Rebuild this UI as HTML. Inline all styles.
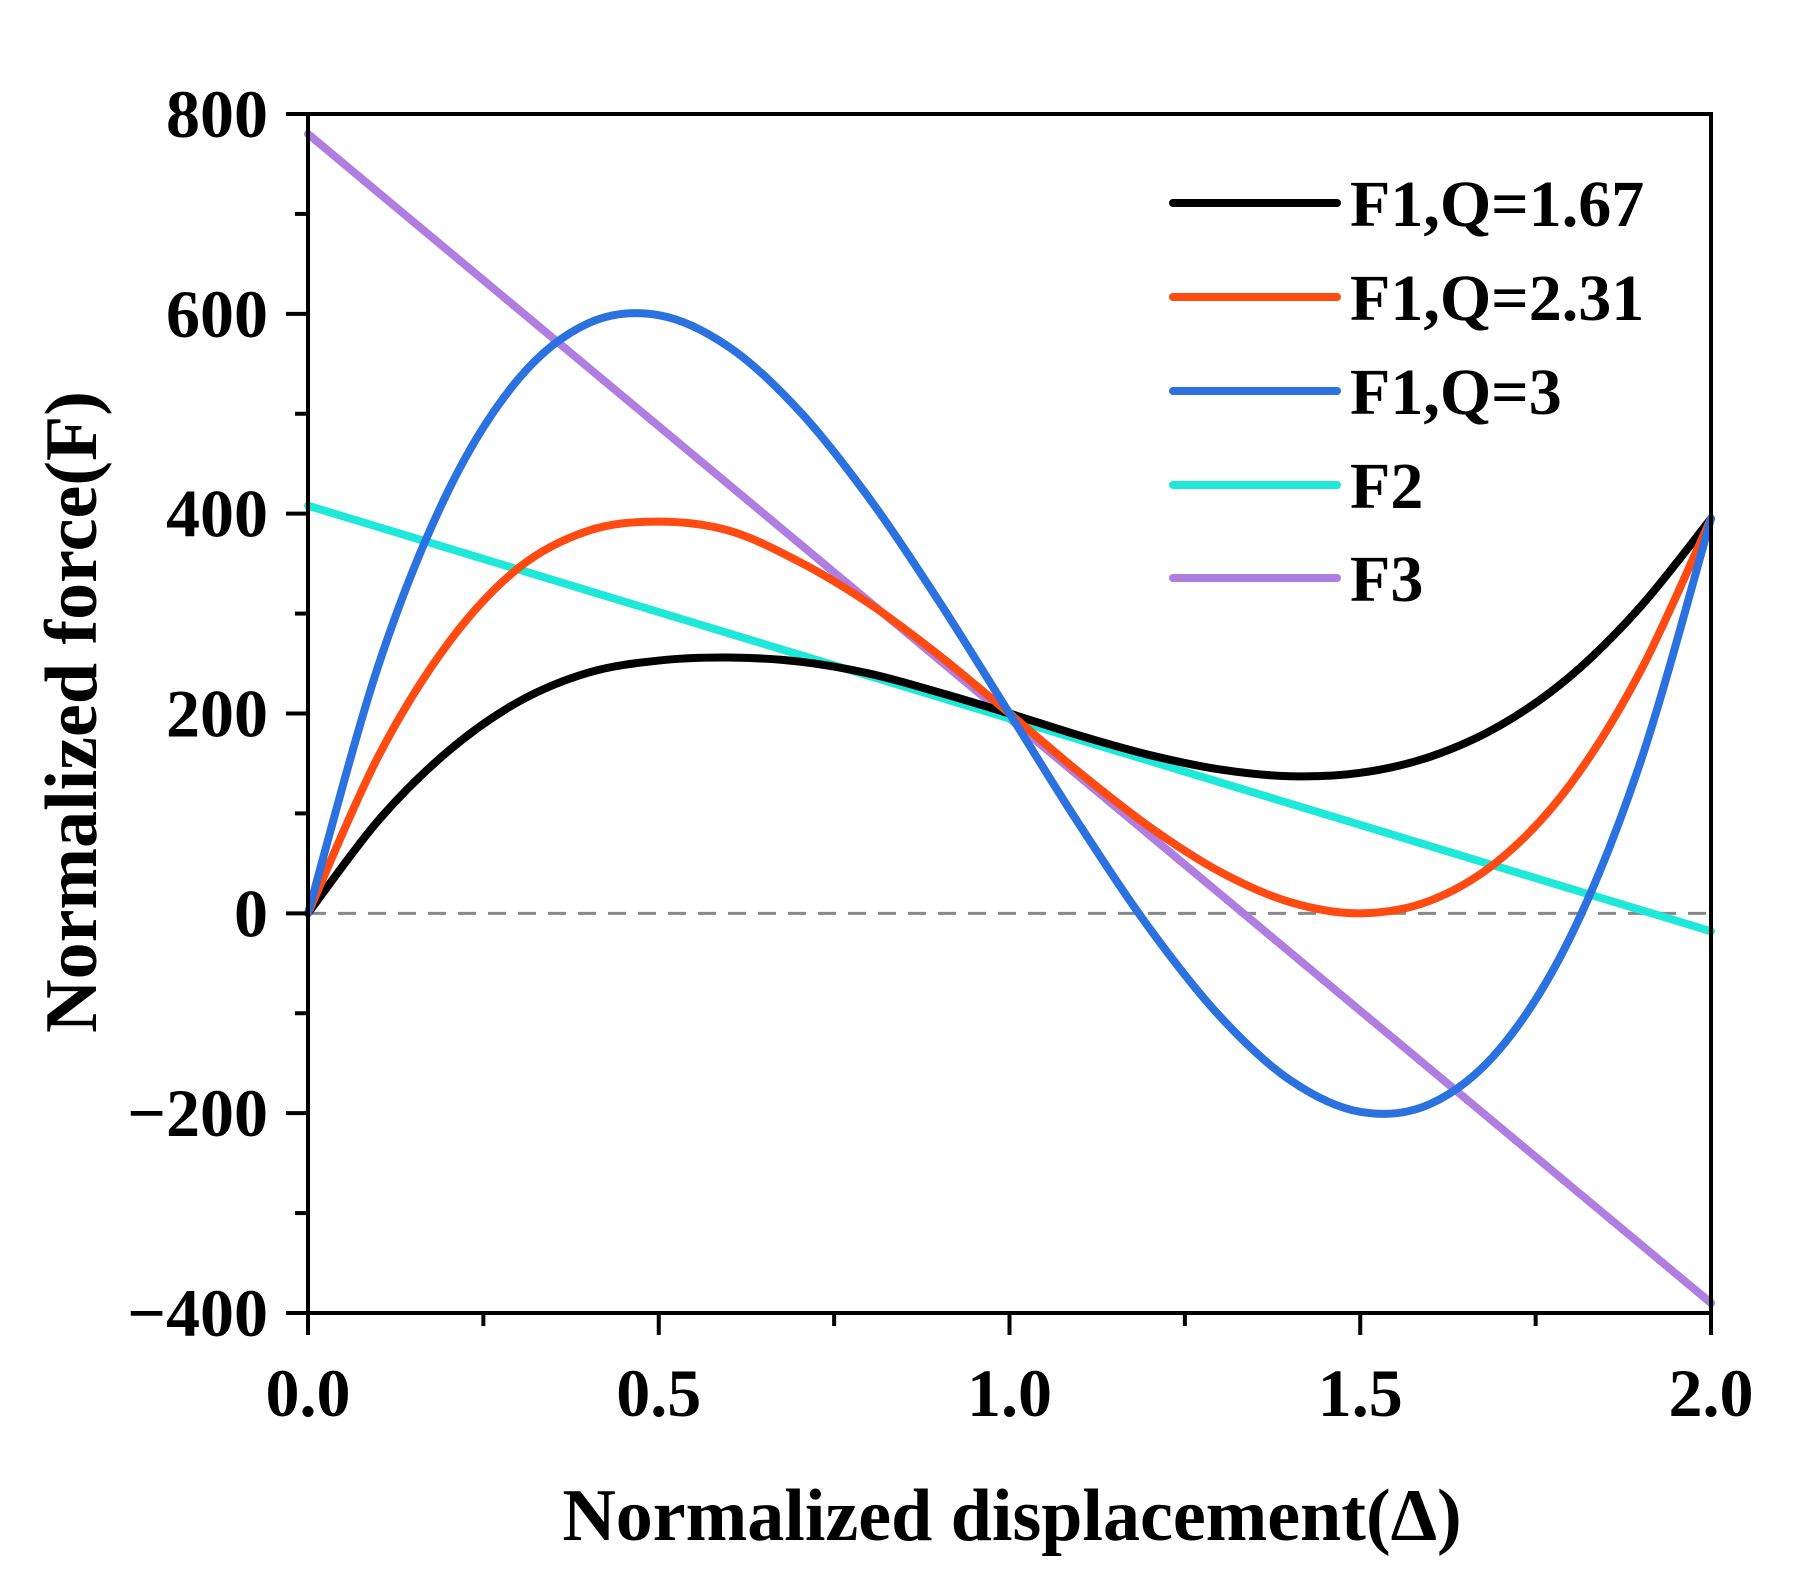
<!DOCTYPE html>
<html><head><meta charset="utf-8"><style>
html,body{margin:0;padding:0;background:#fff;}
svg{display:block;font-family:"Liberation Serif",serif;font-weight:bold;}
</style></head><body>
<svg id="chart" width="1818" height="1586" viewBox="0 0 1818 1586" xmlns="http://www.w3.org/2000/svg">
<g id="plot"></g>
</svg>
<script>
const xs = [0,0.1,0.2,0.3,0.4,0.5,0.6,0.7,0.8,0.9,1.0,1.1,1.2,1.3,1.4,1.5,1.6,1.7,1.8,1.9,2.0];
const f1q167 = [0,92.7,162.4,211.7,241,253,256,252,240,221,200,177.9,158.4,144,137.2,140.6,156.8,188.3,237.6,307.3,395];
const f1q231 = [0,156.8,270.4,345.6,383,392,383,352,310,258,200,140.8,86.4,41.6,11.2,0,12.8,54.4,129.6,243.2,395];
const f1q3 = [0,247.4,423,534.8,590.7,598.7,566.9,503.1,415.4,311.7,200,88.3,-15.4,-103.1,-166.9,-198.7,-190.7,-134.8,-23,152.6,395];
const f2x = [0,2];
const f2y = [408,-18];
const f3x = [0,2];
const f3y = [780,-390];
const xTicks = [0,0.5,1.0,1.5,2.0];
const xTickLabels = ["0.0","0.5","1.0","1.5","2.0"];
const yTicks = [-400,-200,0,200,400,600,800];
const yTickLabels = ["\u2212400","\u2212200","0","200","400","600","800"];
const seriesNames = ["F1,Q=1.67","F1,Q=2.31","F1,Q=3","F2","F3"];

const L=308,R=1711,T=114,B=1313;
const X=v=>L+(v-0)/(2-0)*(R-L);
const Y=v=>B-(v+400)/1200*(B-T);
const NS="http://www.w3.org/2000/svg";
const g=document.getElementById('plot');
function mk(tag,attrs,parent){const e=document.createElementNS(NS,tag);for(const k in attrs)e.setAttribute(k,attrs[k]);(parent||g).appendChild(e);return e;}

function smooth(px,py){
  const p=px.map((x,i)=>[X(x),Y(py[i])]);
  let d="M"+p[0][0]+","+p[0][1];
  for(let i=0;i<p.length-1;i++){
    const p0=p[i-1]||p[i],p1=p[i],p2=p[i+1],p3=p[i+2]||p2;
    const c1=[p1[0]+(p2[0]-p0[0])/6,p1[1]+(p2[1]-p0[1])/6];
    const c2=[p2[0]-(p3[0]-p1[0])/6,p2[1]-(p3[1]-p1[1])/6];
    d+=" C"+c1+" "+c2+" "+p2;
  }
  return d;
}

let z=mk('line',{x1:X(0),x2:X(2),y1:Y(0),y2:Y(0),stroke:'#888','stroke-width':3,'stroke-dasharray':'18,12'});



const colors=['#000000','#ff4a12','#2b72e0','#1ee8d8','#b07ee0'];
const keys=['series-f1-q167','series-f1-q231','series-f1-q3','series-f2','series-f3'];
const datas=[[xs,f1q167],[xs,f1q231],[xs,f1q3],[f2x,f2y],[f3x,f3y]];
const order=[4,3,0,1,2];
order.forEach(i=>{
  const p=mk('path',{d:smooth(datas[i][0],datas[i][1]),fill:'none',stroke:colors[i],'stroke-width':8,'stroke-linecap':'round','stroke-linejoin':'round'});
  
  
});

const fr=mk('rect',{x:L,y:T,width:R-L,height:B-T,fill:'none',stroke:'#000','stroke-width':4});



for(let v=-400;v<=800;v+=100){
  const major=v%200===0;
  const t=mk('line',{x1:L-(major?22:13),x2:L,y1:Y(v),y2:Y(v),stroke:'#000','stroke-width':4});
  
  
}
yTicks.forEach((v,i)=>{
  const t=mk('text',{x:268,y:Y(v)+23,'text-anchor':'end','font-size':68});
  t.textContent=yTickLabels[i];
  
  
});
for(let k=0;k<=8;k++){
  const v=k*0.25,major=k%2===0;
  const t=mk('line',{x1:X(v),x2:X(v),y1:B,y2:B+(major?22:13),stroke:'#000','stroke-width':4});
  
  
}
xTicks.forEach((v,i)=>{
  const t=mk('text',{x:X(v),y:1416,'text-anchor':'middle','font-size':68});
  t.textContent=xTickLabels[i];
  
  
});
let xt=mk('text',{x:1012,y:1540,'text-anchor':'middle','font-size':74});
xt.textContent='Normalized displacement(\u0394)';


let yt=mk('text',{x:0,y:0,'text-anchor':'middle','font-size':74,transform:'translate(96,712) rotate(-90)'});
yt.textContent='Normalized force(F)';



const ly=[203,297,391,485,578];
seriesNames.forEach((n,i)=>{
  const ln=mk('line',{x1:1173,x2:1337,y1:ly[i],y2:ly[i],stroke:colors[i],'stroke-width':8,'stroke-linecap':'round'});
  
  
  const tx=mk('text',{x:1350,y:ly[i]+23,'font-size':66});
  tx.textContent=n;
  
  
});
</script>
</body></html>
